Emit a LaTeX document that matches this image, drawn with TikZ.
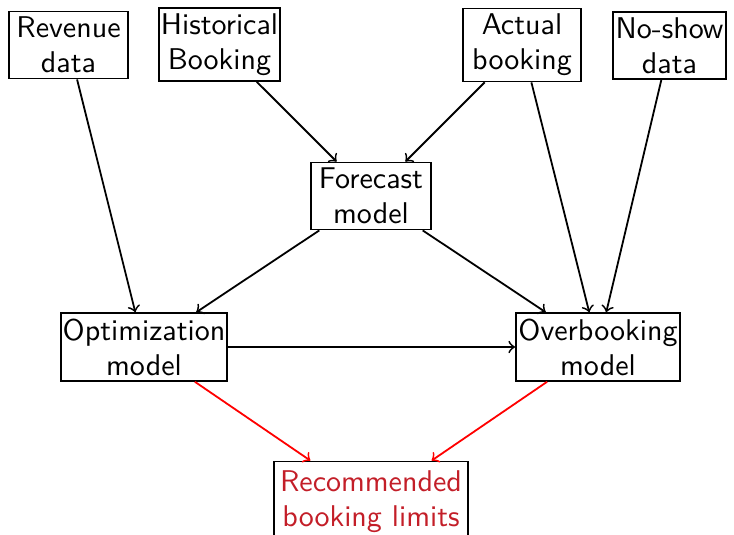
\documentclass[tikz,border=0pt]{standalone}
\usetikzlibrary{arrows}
\definecolor{recred}{RGB}{195,30,40}
\begin{document}
\begin{tikzpicture}[x=0.3333pt,y=-0.3333pt,
  box/.style={draw, rectangle, align=center, line width=0.6pt, inner xsep=0.6pt, inner ysep=1.8pt,
    font=\fontsize{10}{11.7}\selectfont\sffamily},
  conn/.style={->, line width=0.6pt},
  redconn/.style={->, line width=0.6pt, red}]
\useasboundingbox (0,0) rectangle (734,534);
\node[box, minimum width=39.7pt] (rev) at (68.5,45) {Revenue\\data};
\node[box, minimum width=39pt] (hist) at (219.5,44.5) {Historical\\Booking};
\node[box, minimum width=39.3pt] (act) at (522,45) {Actual\\booking};
\node[box, minimum width=37.7pt] (nos) at (669.5,45.5) {No-show\\data};
\node[box, minimum width=40pt] (fc) at (371,196) {Forecast\\model};
\node[box, minimum width=54.7pt] (opt) at (144,347) {Optimization\\model};
\node[box, minimum width=54.7pt] (ovb) at (598,347) {Overbooking\\model};
\node[box, minimum width=64.7pt, minimum height=27pt, text=recred] (rec) at (371,502) {Recommended\\booking limits};
\draw[conn] (rev) -- (opt);
\draw[conn] (hist) -- (fc);
\draw[conn] (act) -- (fc);
\draw[conn] (act) -- (ovb);
\draw[conn] (nos) -- (ovb);
\draw[conn] (fc) -- (opt);
\draw[conn] (fc) -- (ovb);
\draw[conn] (opt) -- (ovb);
\draw[redconn] (opt) -- (rec);
\draw[redconn] (ovb) -- (rec);
\end{tikzpicture}
\end{document}
